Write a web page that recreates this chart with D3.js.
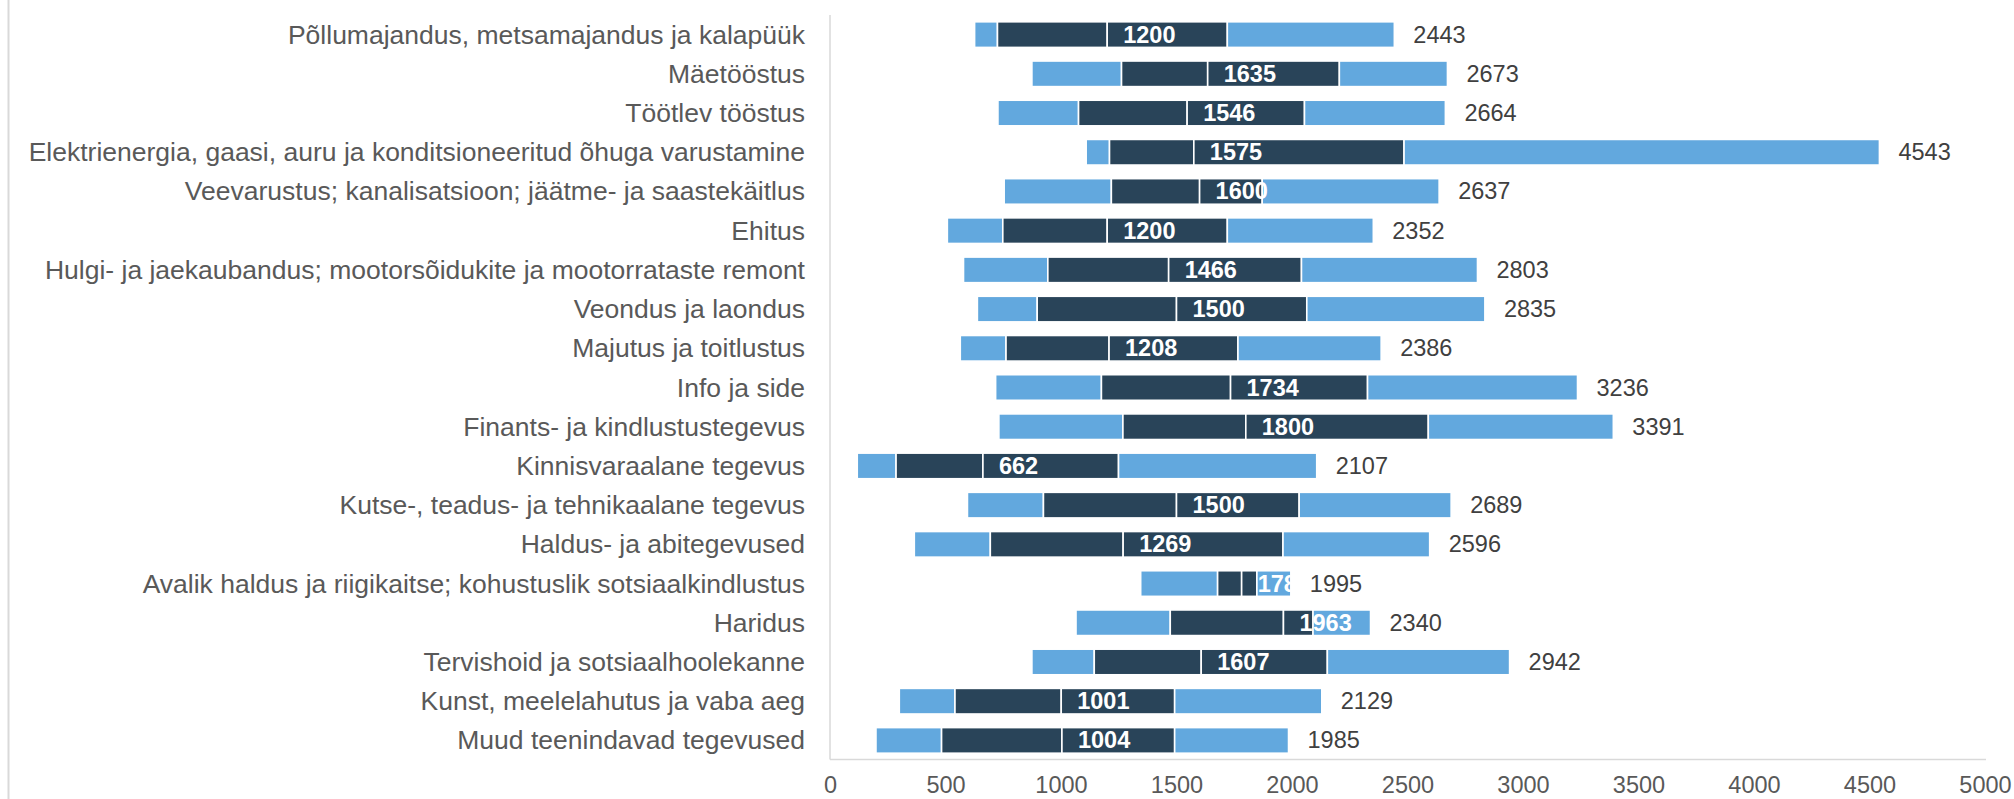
<!DOCTYPE html>
<html>
<head>
<meta charset="utf-8">
<script src="https://cdn.jsdelivr.net/npm/d3@7"></script>
<style>
  html, body { margin: 0; padding: 0; background: #ffffff; }
  svg { display: block; }
  text { font-family: "Liberation Sans", Arial, sans-serif; }
</style>
</head>
<body>
<svg id="chart" width="2014" height="799"></svg>
<script>
const categories = [
  "Põllumajandus, metsamajandus ja kalapüük",
  "Mäetööstus",
  "Töötlev tööstus",
  "Elektrienergia, gaasi, auru ja konditsioneeritud õhuga varustamine",
  "Veevarustus; kanalisatsioon; jäätme- ja saastekäitlus",
  "Ehitus",
  "Hulgi- ja jaekaubandus; mootorsõidukite ja mootorrataste remont",
  "Veondus ja laondus",
  "Majutus ja toitlustus",
  "Info ja side",
  "Finants- ja kindlustustegevus",
  "Kinnisvaraalane tegevus",
  "Kutse-, teadus- ja tehnikaalane tegevus",
  "Haldus- ja abitegevused",
  "Avalik haldus ja riigikaitse; kohustuslik sotsiaalkindlustus",
  "Haridus",
  "Tervishoid ja sotsiaalhoolekanne",
  "Kunst, meelelahutus ja vaba aeg",
  "Muud teenindavad tegevused"
];
const p10    = [626, 874, 727, 1109, 754, 508, 578, 638, 564, 717, 731, 118, 595, 365, 1345, 1065, 874, 300, 199];
const p25    = [725, 1262, 1076, 1210, 1218, 748, 943, 897, 762, 1175, 1268, 286, 924, 694, 1678, 1473, 1144, 541, 483];
const median = [1200, 1635, 1546, 1575, 1600, 1200, 1466, 1500, 1208, 1734, 1800, 662, 1500, 1269, 1782, 1963, 1607, 1001, 1004];
const p75    = [1720, 2205, 2054, 2485, 1871, 1720, 2041, 2064, 1766, 2327, 2590, 1249, 2031, 1961, 1848, 2091, 2153, 1492, 1492];
const p90    = [2443, 2673, 2664, 4543, 2637, 2352, 2803, 2835, 2386, 3236, 3391, 2107, 2689, 2596, 1995, 2340, 2942, 2129, 1985];
const xTicks = [0, 500, 1000, 1500, 2000, 2500, 3000, 3500, 4000, 4500, 5000];

const LIGHT = "#62A8DE", DARK = "#294459";
const svg = d3.select("#chart");
const plotL = 830, plotR = 1985, plotT = 15, plotB = 760;

const x = d3.scaleLinear().domain([0, 5000]).range([plotL, plotR]);
const y = d3.scaleBand().domain(categories).range([plotT, plotB]).paddingInner(0.388).paddingOuter(0.194);

// outer left border
svg.append("line").attr("x1", 8.5).attr("x2", 8.5).attr("y1", 0).attr("y2", 799)
  .attr("stroke", "#d9d9d9").attr("stroke-width", 2);

// axis lines
svg.append("line").attr("x1", plotL).attr("x2", plotL).attr("y1", plotT).attr("y2", plotB - 0.5)
  .attr("stroke", "#d9d9d9").attr("stroke-width", 1.5);
svg.append("line").attr("x1", plotL).attr("x2", plotR + 1).attr("y1", plotB - 0.5).attr("y2", plotB - 0.5)
  .attr("stroke", "#d9d9d9").attr("stroke-width", 1.5);

// x axis labels
const xAxis = d3.axisBottom(x).tickValues(xTicks).tickSize(0).tickPadding(0).tickFormat(d3.format("d"));
const gx = svg.append("g").attr("transform", `translate(0, ${plotB + 16})`).call(xAxis);
gx.select(".domain").remove();
gx.selectAll("text").attr("fill", "#595959").attr("font-size", "23.5px")
  .attr("font-family", "'Liberation Sans', Arial, sans-serif").attr("dy", "0.71em");

// category labels
svg.append("g").selectAll("text").data(categories).join("text")
  .attr("x", plotL - 25).attr("y", d => y(d) + y.bandwidth() / 2)
  .attr("text-anchor", "end").attr("dominant-baseline", "central")
  .attr("fill", "#595959").attr("font-size", "26.5px").text(d => d);

const rows = categories.map((c, i) => ({c, i, v: [p10[i], p25[i], median[i], p75[i], p90[i]]}));
const bh = y.bandwidth();

const defs = svg.append("defs");
rows.forEach(r => {
  defs.append("clipPath").attr("id", "clip" + r.i).append("rect")
    .attr("x", x(r.v[0])).attr("width", x(r.v[4]) - x(r.v[0]))
    .attr("y", y(r.c) - 5).attr("height", bh + 10);
});

const g = svg.append("g").selectAll("g").data(rows).join("g");
const segColors = [LIGHT, DARK, DARK, LIGHT];
g.each(function(r) {
  const sel = d3.select(this);
  for (let k = 0; k < 4; k++) {
    sel.append("rect")
      .attr("x", x(r.v[k])).attr("width", x(r.v[k + 1]) - x(r.v[k]))
      .attr("y", y(r.c) - 0.8).attr("height", bh + 1.6)
      .attr("fill", segColors[k]).attr("stroke", "#ffffff").attr("stroke-width", 1.6);
  }
  sel.append("text")
    .attr("clip-path", `url(#clip${r.i})`)
    .attr("x", x(r.v[2]) + 16).attr("y", y(r.c) + bh / 2)
    .attr("dominant-baseline", "central")
    .attr("fill", "#ffffff").attr("font-weight", "bold").attr("font-size", "23.5px")
    .text(r.v[2]);
  sel.append("text")
    .attr("x", x(r.v[4]) + 19).attr("y", y(r.c) + bh / 2)
    .attr("dominant-baseline", "central")
    .attr("fill", "#404040").attr("font-size", "23.5px")
    .text(r.v[4]);
});
</script>
</body>
</html>
